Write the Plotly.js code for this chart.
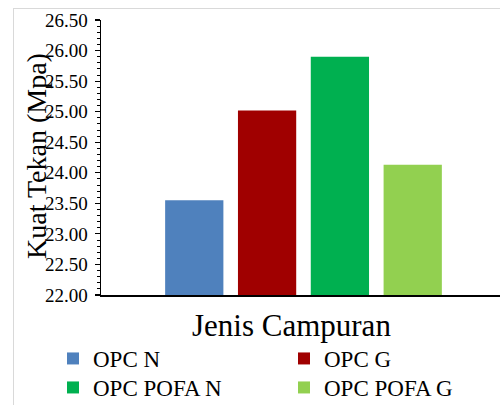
<!DOCTYPE html>
<html>
<head>
<meta charset="utf-8">
<script src="https://cdn.plot.ly/plotly-3.0.1.min.js"></script>
<style>
html,body{margin:0;padding:0;background:#fff;}
#wrap{position:relative;width:500px;height:405px;overflow:hidden;}
#chart{position:absolute;left:0;top:0;width:500px;height:405px;}
#frame{position:absolute;left:13px;top:8px;width:520px;height:420px;border:1.5px solid #d9d9d9;box-sizing:border-box;pointer-events:none;}
</style>
</head>
<body>
<div id="wrap"><div id="chart"></div><div id="frame"></div></div>
<script>
const seriesNames = ["OPC N", "OPC G", "OPC POFA N", "OPC POFA G"];
const seriesValues = [23.55, 25.02, 25.90, 24.13];
const seriesColors = ["#4F81BD", "#A00000", "#00B050", "#92D050"];
const category = ["Jenis Campuran"];
const xTitle = "Jenis Campuran";
const yTitle = "Kuat Tekan (Mpa)";
const yRange = [22, 26.5];
const legendIds = ["legend", "legend2", "legend3", "legend4"];

const font = "'Liberation Serif', 'Times New Roman', serif";

const traces = seriesNames.map((name, i) => ({
  type: "bar",
  name: name,
  x: category,
  y: [seriesValues[i]],
  marker: {color: seriesColors[i], line: {width: 0}},
  legend: legendIds[i],
  hoverinfo: "y+name"
}));

function legendAt(px, py) {
  return {
    orientation: "v",
    xref: "container", yref: "container",
    xanchor: "left", yanchor: "top",
    x: px / 500, y: 1 - py / 405,
    font: {family: font, size: 23, color: "#000"},
    bgcolor: "rgba(0,0,0,0)",
    itemwidth: 30
  };
}

const layout = {
  width: 500, height: 405,
  margin: {l: 101, r: 0, t: 20, b: 110, autoexpand: false},
  paper_bgcolor: "#fff", plot_bgcolor: "#fff",
  barmode: "group",
  bargap: 0.27,
  bargroupgap: 0.2,
  showlegend: true,
  font: {family: font, color: "#000"},
  xaxis: {
    type: "category",
    range: [-0.5075, 0.4925],
    showticklabels: false,
    ticks: "",
    showline: true, linecolor: "#000", linewidth: 1.5,
    showgrid: false, zeroline: false,
    automargin: false,
    fixedrange: true
  },
  yaxis: {
    range: yRange,
    dtick: 0.5, tick0: 22,
    tickformat: ".2f",
    ticks: "outside", ticklen: 5, tickwidth: 1.2, tickcolor: "#000",
    ticklabelstandoff: 3,
    minor: {dtick: 0.1, ticks: "outside", ticklen: 3, tickwidth: 1, tickcolor: "#000", showgrid: false},
    showline: true, linecolor: "#000", linewidth: 1.5,
    showgrid: false, zeroline: false,
    tickfont: {family: font, size: 19, color: "#000"},
    automargin: false,
    fixedrange: true
  },
  yaxis2: {
    overlaying: "y",
    side: "left",
    range: yRange,
    dtick: 0.5, tick0: 22,
    ticks: "inside", ticklen: 5, tickwidth: 1.2, tickcolor: "#000",
    showticklabels: false,
    showline: false, showgrid: false, zeroline: false,
    automargin: false,
    fixedrange: true
  },
  annotations: [
    {text: xTitle, xref: "paper", yref: "paper", x: (291.5 - 101) / 399, y: (295 - 325) / 275,
     xanchor: "center", yanchor: "middle", showarrow: false,
     font: {family: font, size: 31, color: "#000"}},
    {text: yTitle, xref: "paper", yref: "paper", x: (36 - 101) / 399, y: (295 - 156) / 275,
     xanchor: "center", yanchor: "middle", showarrow: false, textangle: -90,
     font: {family: font, size: 28, color: "#000"}}
  ],
  legend: legendAt(53, 337),
  legend2: legendAt(284, 337),
  legend3: legendAt(53, 366),
  legend4: legendAt(284, 366)
};

Plotly.newPlot("chart", traces, layout, {displayModeBar: false, staticPlot: true});
</script>
</body>
</html>
